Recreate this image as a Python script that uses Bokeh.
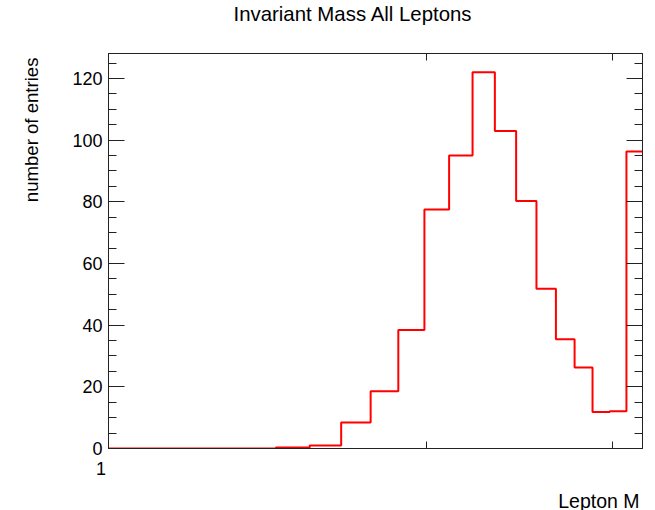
from bokeh.plotting import figure
from bokeh.models import Range1d, LinearAxis, LogAxis, FixedTicker, CustomJSTickFormatter, Title
from bokeh.embed import file_html
from bokeh.resources import INLINE

# ---- data ----
hist_lo = 1.0
hist_hi = 3.2
n_bins = 20
counts = [0, 0, 0, 0, 0.3, 1.0, 8.4, 18.6, 38.4, 77.5,
          95.0, 122.0, 103.0, 80.3, 51.8, 35.4, 26.3, 11.8, 12.1, 96.3]
y_ticks = [0, 20, 40, 60, 80, 100, 120]
y_minor = [v for v in range(0, 130, 5) if v % 20 != 0]
x_ticks = [1, 2, 3]

title_text = "Invariant Mass All Leptons"
x_title = "Lepton M"
y_title = "number of entries"

bw = (hist_hi - hist_lo) / n_bins
edges = [hist_lo + i * bw for i in range(n_bins + 1)]
step_y = counts + [counts[-1]]
ymax = 1.05 * max(counts)

FONT = "Liberation Sans"
AX = "#222222"

p = figure(width=655, height=510, x_axis_type="log",
           x_range=Range1d(hist_lo, hist_hi), y_range=Range1d(0, ymax),
           output_backend="svg", toolbar_location=None, title=None,
           min_border_left=108, min_border_right=13,
           min_border_top=53, min_border_bottom=61)
p.background_fill_color = "white"
p.border_fill_color = "white"
p.grid.visible = False
p.outline_line_color = AX

p.step(edges, step_y, mode="after", line_color="#ff0000", line_width=2)

# left axis
ya = p.yaxis[0]
ya.ticker = FixedTicker(ticks=y_ticks, minor_ticks=y_minor)
ya.major_tick_in = 16
ya.major_tick_out = 0
ya.minor_tick_in = 8
ya.minor_tick_out = 0
ya.major_label_standoff = 6
ya.major_label_text_font = FONT
ya.major_label_text_font_size = "18px"
ya.major_label_text_color = "black"
ya.axis_line_color = AX
ya.major_tick_line_color = AX
ya.minor_tick_line_color = AX

# bottom axis
xa = p.xaxis[0]
xa.ticker = FixedTicker(ticks=x_ticks, minor_ticks=[])
xa.formatter = CustomJSTickFormatter(
    code="return Math.abs(tick - 1) < 1e-6 ? '1\\u2007\\u2008' : '';")
xa.major_tick_in = 7
xa.major_tick_out = 0
xa.minor_tick_in = 0
xa.minor_tick_out = 0
xa.major_label_standoff = 10
xa.major_label_text_font = FONT
xa.major_label_text_font_size = "18px"
xa.major_label_text_color = "black"
xa.axis_line_color = AX
xa.major_tick_line_color = AX

blank = CustomJSTickFormatter(code="return '';")

ra = LinearAxis(ticker=FixedTicker(ticks=y_ticks, minor_ticks=y_minor), formatter=blank,
                major_tick_in=16, major_tick_out=0, minor_tick_in=8, minor_tick_out=0,
                major_label_standoff=0, major_label_text_font_size="1px",
                axis_line_color=AX, major_tick_line_color=AX, minor_tick_line_color=AX)
p.add_layout(ra, "right")

ta = LogAxis(ticker=FixedTicker(ticks=x_ticks, minor_ticks=[]), formatter=blank,
             major_tick_in=7, major_tick_out=0, minor_tick_in=0, minor_tick_out=0,
             major_label_standoff=0, major_label_text_font_size="1px",
             axis_line_color=AX, major_tick_line_color=AX)
p.add_layout(ta, "above")


def spacer(size):
    return Title(text=" ", text_font_size="1px", standoff=size)


# titles in side panels (spacers push them outward)
p.add_layout(spacer(26.8), "above")
p.add_layout(Title(text=title_text, align="left", offset=125, standoff=-2,
                   vertical_align="bottom",
                   text_font=FONT, text_font_size="20.4px", text_font_style="normal",
                   text_color="black"), "above")
p.add_layout(spacer(3.8), "below")
p.add_layout(Title(text=x_title, align="right", offset=3, standoff=-2,
                   vertical_align="bottom",
                   text_font=FONT, text_font_size="19.5px", text_font_style="normal",
                   text_color="black"), "below")
p.add_layout(spacer(22.8), "left")
p.add_layout(Title(text=y_title, align="right", offset=4, standoff=4,
                   vertical_align="bottom",
                   text_font=FONT, text_font_size="18.6px", text_font_style="normal",
                   text_color="black"), "left")

open("out.html", "w").write(file_html(p, INLINE))
